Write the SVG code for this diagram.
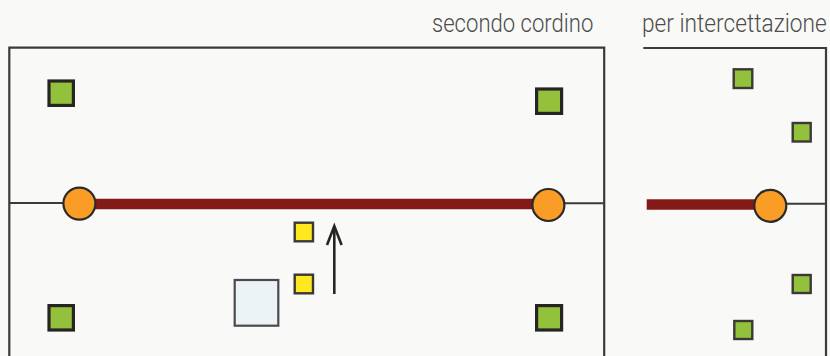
<svg xmlns="http://www.w3.org/2000/svg" width="830" height="356" viewBox="0 0 830 356">
<style>
.f{fill:none;stroke:#3c3b3b;stroke-width:2.2}
.t{fill:none;stroke:#3c3b3b;stroke-width:2}
.r{fill:none;stroke:#841a18;stroke-width:10.5}
.b{fill:#94c13c;stroke:#262523;stroke-width:3.2}
.s{fill:#94c13c;stroke:#3a3936;stroke-width:2.4}
.y{fill:#ffe81f;stroke:#3a3936;stroke-width:2.4}
.c{fill:#f99d26;stroke:#2b2a29;stroke-width:2.2}
.l{font-family:Roboto,"Liberation Sans",sans-serif;font-weight:300;font-size:25px;fill:#4d4d4d}
</style>
<rect width="830" height="356" fill="#f9f9f7"/>
<g id="connectors">
<path class="f" d="M9.3 356V47.7H604.2V356"/>
<path class="f" d="M643.3 48H826V356"/>
<path class="t" d="M9 203H64M564 203.3H604M786 203.7H826"/>
<path class="r" d="M95 204H533"/>
<path class="r" d="M646.7 204.6H755"/>
<path fill="none" stroke="#262523" stroke-width="2.6" d="M334.3 294V227"/>
<path fill="none" stroke="#262523" stroke-width="2.6" d="M327 245L334.3 226L341.6 245"/>
</g>
<g id="label-secondo"><text class="l" transform="translate(432 32) scale(.884 1)">secondo cordino</text></g>
<g id="label-per"><text class="l" transform="translate(642 32) scale(.908 1)">per intercettazione</text></g>
<g id="anchor-tl"><rect class="b" x="49" y="81" width="24.4" height="24.4"/></g>
<g id="anchor-tr"><rect class="b" x="536.6" y="89" width="25" height="24.4"/></g>
<g id="anchor-bl"><rect class="b" x="49" y="305.6" width="24.4" height="24.4"/></g>
<g id="anchor-br"><rect class="b" x="536.6" y="305.6" width="25" height="24.4"/></g>
<g id="small-1"><rect class="s" x="733.7" y="69.3" width="18.6" height="18.7"/></g>
<g id="small-2"><rect class="s" x="792.7" y="123" width="18" height="18.5"/></g>
<g id="small-3"><rect class="s" x="792.7" y="275" width="18" height="18"/></g>
<g id="small-4"><rect class="s" x="734.3" y="321" width="18" height="18"/></g>
<g id="yellow-1"><rect class="y" x="294.7" y="222.7" width="18.3" height="18.6"/></g>
<g id="yellow-2"><rect class="y" x="294.7" y="274.7" width="18.3" height="18.6"/></g>
<g id="player"><rect x="234.7" y="280" width="43.6" height="45.7" fill="#ebf3f6" stroke="#4a4a4c" stroke-width="2.2"/></g>
<g id="circle-1"><circle class="c" cx="79.4" cy="203.6" r="16"/></g>
<g id="circle-2"><circle class="c" cx="548.4" cy="205" r="16"/></g>
<g id="circle-3"><circle class="c" cx="770.3" cy="205.8" r="16"/></g>
</svg>
